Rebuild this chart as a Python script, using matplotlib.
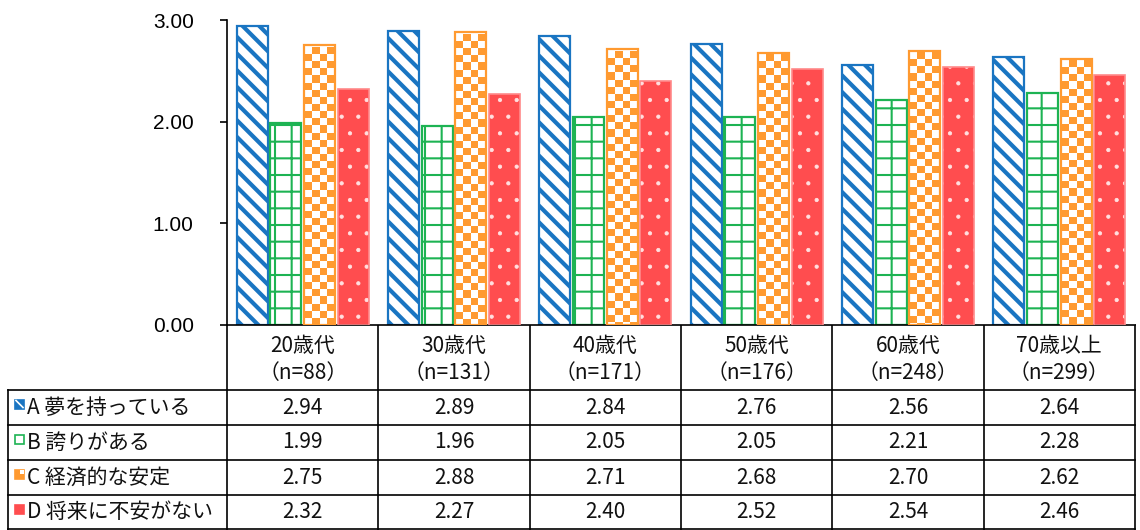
import numpy as np
import matplotlib
matplotlib.use("Agg")
import matplotlib.pyplot as plt
from matplotlib.patches import Rectangle
from matplotlib.colors import ListedColormap

plt.rcParams['font.family'] = ['Noto Sans CJK JP', 'DejaVu Sans']
plt.rcParams['hatch.linewidth'] = 2.0

# data
groups = ["20歳代", "30歳代", "40歳代", "50歳代", "60歳代", "70歳以上"]
counts = ["（n=88）", "（n=131）", "（n=171）", "（n=176）", "（n=248）", "（n=299）"]
series_names = ["A 夢を持っている", "B 誇りがある", "C 経済的な安定", "D 将来に不安がない"]
a_dream = [2.94, 2.89, 2.84, 2.76, 2.56, 2.64]
b_pride = [1.99, 1.96, 2.05, 2.05, 2.21, 2.28]
c_stable = [2.75, 2.88, 2.71, 2.68, 2.70, 2.62]
d_anxiety = [2.32, 2.27, 2.40, 2.52, 2.54, 2.46]
series = [a_dream, b_pride, c_stable, d_anxiety]

blue = '#1a75c2'
green = '#1db353'
orange = '#ff9a30'
red = '#ff4d4f'

W, H = 1140, 530
fig = plt.figure(figsize=(W / 100, H / 100), dpi=100)

# table layer in pixel coordinates
tab = fig.add_axes([0, 0, 1, 1])
tab.set_xlim(0, W)
tab.set_ylim(H, 0)
tab.axis('off')

plot_l, plot_r, plot_t, plot_b = 227, 1135, 20, 325
ax = fig.add_axes([plot_l / W, (H - plot_b) / H, (plot_r - plot_l) / W, (plot_b - plot_t) / H])

x = np.arange(len(groups))
bw = 0.205
step = 0.222

def hatch_lw(bars, lw):
    for b in bars:
        if hasattr(b, 'set_hatch_linewidth'):
            b.set_hatch_linewidth(lw)

# A: diagonal stripes
with plt.rc_context({'hatch.linewidth': 3.0}):
    ba = ax.bar(x - 1.5 * step, a_dream, bw, color='white', edgecolor=blue,
                hatch='\\\\', linewidth=1.6, zorder=2)
hatch_lw(ba, 3.0)

# B: grid
with plt.rc_context({'hatch.linewidth': 1.5}):
    bb = ax.bar(x - 0.5 * step, b_pride, bw, color='white', edgecolor=green,
                hatch='+', linewidth=1.6, zorder=2)
hatch_lw(bb, 1.5)

# C: checkerboard
bc = ax.bar(x + 0.5 * step, c_stable, bw, color='none', edgecolor=orange,
            linewidth=1.6, zorder=3)
cx, cy = 0.047, 0.07
for b in bc:
    x0, w, h = b.get_x(), b.get_width(), b.get_height()
    nx = int(np.ceil(w / cx)) + 1
    ny = int(np.ceil(h / cy)) + 1
    board = (np.add.outer(np.arange(ny), np.arange(nx)) % 2).astype(float)
    im = ax.imshow(board, extent=(x0 + 0.006, x0 + 0.006 + nx * cx, h - 0.02 - ny * cy, h - 0.02),
                   origin='upper', cmap=ListedColormap(['white', orange]),
                   interpolation='nearest', aspect='auto', zorder=2)
    im.set_clip_path(b)

# D: solid with white dots
with plt.rc_context({'hatch.linewidth': 0.6}):
    bd = ax.bar(x + 1.5 * step, d_anxiety, bw, color=red, edgecolor='#ffe0e0',
                hatch='.', linewidth=0, zorder=2)
hatch_lw(bd, 0.6)
ax.bar(x + 1.5 * step, d_anxiety, bw, color='none', edgecolor='#ff8a8a',
       linewidth=1.2, zorder=3)

ax.set_xlim(-0.5, len(groups) - 0.5)
ax.set_ylim(0, 3)
ax.set_yticks([0, 1, 2, 3])
ax.set_yticklabels([f"{v:.2f}" for v in [0, 1, 2, 3]], family='Liberation Sans', fontsize=15)
ax.set_xticks([])
for s in ['top', 'right']:
    ax.spines[s].set_visible(False)
ax.spines['left'].set_linewidth(1.2)
ax.spines['bottom'].set_linewidth(1.2)
ax.tick_params(axis='y', direction='out', length=5, width=1.2, pad=19)

# table
col_w = (plot_r - plot_l) / len(groups)
edges = [plot_l + i * col_w for i in range(len(groups) + 1)]
row_top = 390
row_h = 35
tab_left = 8
lc = 'black'
for e in edges:
    tab.plot([e, e], [plot_b, H], color=lc, lw=1.2)
tab.plot([tab_left, tab_left], [row_top, H], color=lc, lw=1.2)
for r in range(len(series) + 1):
    yy = min(row_top + r * row_h, H - 1)
    tab.plot([tab_left, plot_r], [yy, yy], color=lc, lw=1.2)

fs = 15
for i, (g, n) in enumerate(zip(groups, counts)):
    cxp = edges[i] + col_w / 2
    tab.text(cxp, 346, g, ha='center', va='center', fontsize=fs, color='#111111')
    tab.text(cxp, 373, n, ha='center', va='center', fontsize=fs, color='#111111')

icon_styles = [
    dict(facecolor=blue, edgecolor=blue),
    dict(facecolor='white', edgecolor=green),
    dict(facecolor=orange, edgecolor=orange),
    dict(facecolor=red, edgecolor=red),
]
for r, (name, vals) in enumerate(zip(series_names, series)):
    yc = row_top + r * row_h + row_h / 2
    tab.add_patch(Rectangle((15, yc - 8), 9, 9, linewidth=1.2, **icon_styles[r]))
    if r == 0:
        tab.plot([16, 23], [yc - 7, yc], color='white', lw=1.2)
    if r == 2:
        tab.add_patch(Rectangle((19.5, yc - 8), 4.5, 4.5, facecolor='white', edgecolor='none'))
    tab.text(27, yc, name, ha='left', va='center', fontsize=fs, color='#111111')
    for i, v in enumerate(vals):
        tab.text(edges[i] + col_w / 2, yc, f"{v:.2f}", ha='center', va='center',
                 fontsize=fs, color='#111111')

fig.savefig("out.png", dpi=100)
